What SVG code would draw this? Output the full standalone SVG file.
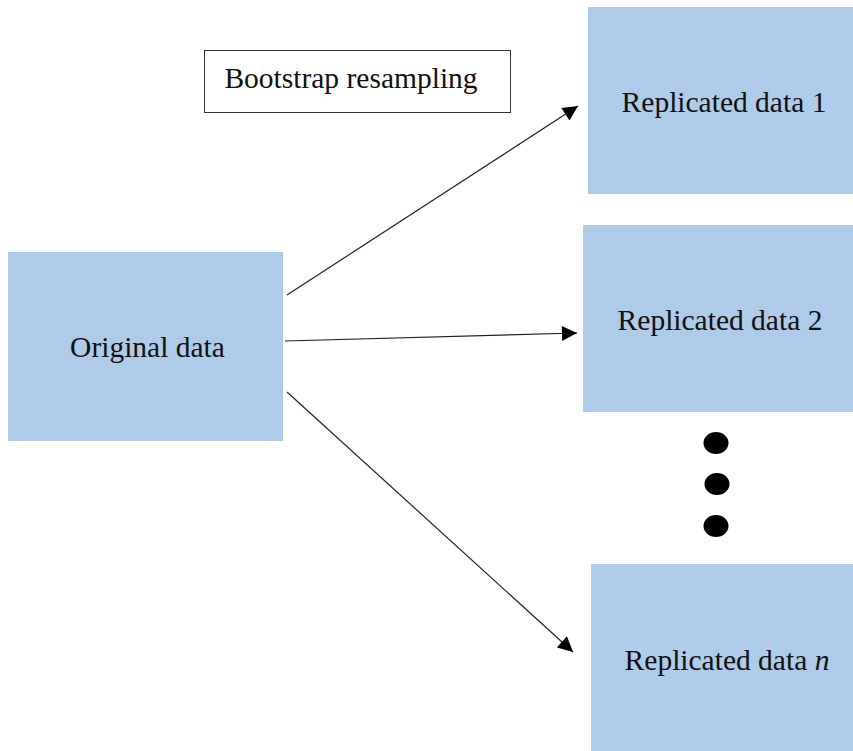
<svg xmlns="http://www.w3.org/2000/svg" width="853" height="751" viewBox="0 0 853 751">
<style>
.node{fill:#aecbe9;}
.lbl{font-family:"Liberation Serif","Times New Roman",serif;font-size:29.5px;fill:#111;text-anchor:middle;}
.conn{stroke:#222;stroke-width:1.2;fill:none;marker-end:url(#ah);}
</style>
<defs>
<marker id="ah" viewBox="0 0 10 10" refX="10" refY="5" markerWidth="18" markerHeight="15" markerUnits="userSpaceOnUse" orient="auto">
<path d="M0,0 L10,5 L0,10 z" fill="#000"/>
</marker>
</defs>
<rect width="853" height="751" fill="#fff"/>
<g id="bootstrap">
<rect x="204.5" y="50.5" width="306" height="62" fill="#fff" stroke="#333" stroke-width="1"/>
<text class="lbl" x="351" y="88">Bootstrap resampling</text>
</g>
<g id="original">
<rect class="node" x="8" y="252" width="275" height="189"/>
<text class="lbl" x="147.5" y="357">Original data</text>
</g>
<g id="rep1">
<rect class="node" x="588" y="7" width="265" height="187"/>
<text class="lbl" x="724" y="112">Replicated data 1</text>
</g>
<g id="rep2">
<rect class="node" x="583" y="225" width="270" height="187"/>
<text class="lbl" x="720" y="330">Replicated data 2</text>
</g>
<g id="dots">
<ellipse cx="716" cy="443" rx="12.5" ry="11"/>
<ellipse cx="717" cy="484" rx="12.5" ry="11"/>
<ellipse cx="716" cy="526" rx="12.5" ry="11"/>
</g>
<g id="repn">
<rect class="node" x="591" y="564" width="262" height="187"/>
<text class="lbl" x="727" y="670">Replicated data <tspan font-style="italic">n</tspan></text>
</g>
<g id="connectors">
<line class="conn" x1="287" y1="295" x2="578" y2="106"/>
<line class="conn" x1="285" y1="341" x2="577" y2="333"/>
<line class="conn" x1="287" y1="392" x2="573" y2="652"/>
</g>
</svg>
